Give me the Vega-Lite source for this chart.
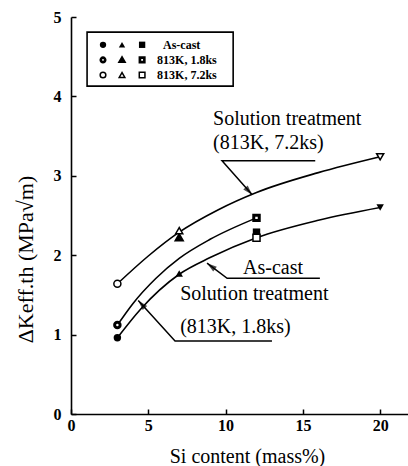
{
  "$schema": "https://vega.github.io/schema/vega-lite/v6.json",
  "width": 337,
  "height": 397,
  "autosize": {"type": "none"},
  "padding": {"left": 71, "top": 17, "right": 0, "bottom": 52},
  "background": "white",
  "config": {
    "font": "Liberation Serif",
    "view": {"stroke": null},
    "axis": {
      "grid": false,
      "domainColor": "black",
      "domainWidth": 1.6,
      "tickColor": "black",
      "tickWidth": 1.5,
      "labelColor": "black",
      "titleColor": "black"
    }
  },
  "datasets": {
    "curves": [
      {"series": "813K, 7.2ks", "si": 3, "dk": 1.64},
      {"series": "813K, 7.2ks", "si": 5, "dk": 1.99},
      {"series": "813K, 7.2ks", "si": 7, "dk": 2.29},
      {"series": "813K, 7.2ks", "si": 9.5, "dk": 2.57},
      {"series": "813K, 7.2ks", "si": 12, "dk": 2.79},
      {"series": "813K, 7.2ks", "si": 16, "dk": 3.04},
      {"series": "813K, 7.2ks", "si": 20, "dk": 3.24},
      {"series": "813K, 1.8ks", "si": 3, "dk": 1.12},
      {"series": "813K, 1.8ks", "si": 4, "dk": 1.39},
      {"series": "813K, 1.8ks", "si": 5.5, "dk": 1.71},
      {"series": "813K, 1.8ks", "si": 7, "dk": 1.96},
      {"series": "813K, 1.8ks", "si": 9, "dk": 2.2},
      {"series": "813K, 1.8ks", "si": 12, "dk": 2.47},
      {"series": "As-cast", "si": 3, "dk": 0.96},
      {"series": "As-cast", "si": 4.5, "dk": 1.32},
      {"series": "As-cast", "si": 7, "dk": 1.76},
      {"series": "As-cast", "si": 9, "dk": 1.97},
      {"series": "As-cast", "si": 12, "dk": 2.22},
      {"series": "As-cast", "si": 16, "dk": 2.44},
      {"series": "As-cast", "si": 20, "dk": 2.6}
    ],
    "points": [
      {"condition": "As-cast", "alloy": "3Si", "si": 3, "dk": 0.96},
      {"condition": "As-cast", "alloy": "7Si", "si": 7, "dk": 1.77},
      {"condition": "As-cast", "alloy": "12Si", "si": 12, "dk": 2.29},
      {"condition": "As-cast", "alloy": "20Si", "si": 20, "dk": 2.6},
      {"condition": "813K, 1.8ks", "alloy": "3Si", "si": 3, "dk": 1.12},
      {"condition": "813K, 1.8ks", "alloy": "7Si", "si": 7, "dk": 2.22},
      {"condition": "813K, 1.8ks", "alloy": "12Si", "si": 12, "dk": 2.47},
      {"condition": "813K, 7.2ks", "alloy": "3Si", "si": 3, "dk": 1.64},
      {"condition": "813K, 7.2ks", "alloy": "7Si", "si": 7, "dk": 2.31},
      {"condition": "813K, 7.2ks", "alloy": "12Si", "si": 12, "dk": 2.22},
      {"condition": "813K, 7.2ks", "alloy": "20Si", "si": 20, "dk": 3.24}
    ],
    "leaders": [
      {"id": "a1", "seq": 1, "si": 11.72, "dk": 2.76},
      {"id": "a1", "seq": 2, "si": 9.77, "dk": 3.19},
      {"id": "a1", "seq": 3, "si": 15.8, "dk": 3.19},
      {"id": "a2", "seq": 1, "si": 8.8, "dk": 1.9},
      {"id": "a2", "seq": 2, "si": 10.1, "dk": 1.71},
      {"id": "a2", "seq": 3, "si": 16.1, "dk": 1.71},
      {"id": "a3", "seq": 1, "si": 4.35, "dk": 1.43},
      {"id": "a3", "seq": 2, "si": 6.73, "dk": 0.92},
      {"id": "a3", "seq": 3, "si": 13.0, "dk": 0.92}
    ],
    "notes": [
      {"label": "Solution treatment", "si": 9.19, "dk": 3.64},
      {"label": "(813K, 7.2ks)", "si": 9.19, "dk": 3.34},
      {"label": "As-cast", "si": 11.13, "dk": 1.757},
      {"label": "Solution treatment", "si": 7.06, "dk": 1.436},
      {"label": "(813K, 1.8ks)", "si": 7.06, "dk": 1.02}
    ],
    "legendSymbols": [
      {"condition": "As-cast", "alloy": "3Si", "si": 2.07, "dk": 4.65},
      {"condition": "As-cast", "alloy": "7Si", "si": 3.3, "dk": 4.65},
      {"condition": "As-cast", "alloy": "12Si", "si": 4.6, "dk": 4.65},
      {"condition": "813K, 1.8ks", "alloy": "3Si", "si": 2.07, "dk": 4.46},
      {"condition": "813K, 1.8ks", "alloy": "7Si", "si": 3.3, "dk": 4.46},
      {"condition": "813K, 1.8ks", "alloy": "12Si", "si": 4.6, "dk": 4.46},
      {"condition": "813K, 7.2ks", "alloy": "3Si", "si": 2.07, "dk": 4.27},
      {"condition": "813K, 7.2ks", "alloy": "7Si", "si": 3.3, "dk": 4.27},
      {"condition": "813K, 7.2ks", "alloy": "12Si", "si": 4.6, "dk": 4.27}
    ],
    "legendLabels": [
      {"label": "As-cast", "si": 5.95, "dk": 4.65},
      {"label": "813K, 1.8ks", "si": 5.57, "dk": 4.46},
      {"label": "813K, 7.2ks", "si": 5.57, "dk": 4.27}
    ],
    "legendBox": [
      {"si": 1.04, "si2": 10.49, "dk": 4.81, "dk2": 4.13}
    ]
  },
  "layer": [
    {
      "data": {"name": "curves"},
      "mark": {"type": "line", "interpolate": "monotone", "color": "black", "strokeWidth": 1.6},
      "encoding": {
        "x": {
          "field": "si", "type": "quantitative",
          "scale": {"domain": [0, 21.8], "nice": false, "zero": false},
          "axis": {
            "values": [0, 5, 10, 15, 20],
            "format": "d",
            "tickSize": -5,
            "labelPadding": 8,
            "labelFont": "Liberation Serif",
            "labelFontSize": 16,
            "labelFontWeight": "bold",
            "labelFlush": false,
            "title": "Si content (mass%)",
            "titleFont": "Liberation Serif",
            "titleFontSize": 20,
            "titleFontWeight": "normal",
            "titleX": 176,
            "titleY": 48,
            "titleBaseline": "alphabetic"
          }
        },
        "y": {
          "field": "dk", "type": "quantitative",
          "scale": {"domain": [0, 5], "nice": false, "zero": false},
          "axis": {
            "values": [0, 1, 2, 3, 4, 5],
            "format": "d",
            "tickSize": -5,
            "labelPadding": 15,
            "labelFont": "Liberation Serif",
            "labelFontSize": 16,
            "labelFontWeight": "bold",
            "labelFlush": false,
            "title": "ΔKeff.th (MPa√m)",
            "titleFont": "Liberation Serif",
            "titleFontSize": 22,
            "titleFontWeight": "normal",
            "titleX": -39,
            "titleY": 242,
            "titleAngle": 270,
            "titleBaseline": "alphabetic"
          }
        },
        "detail": {"field": "series"}
      }
    },
    {
      "mark": {"type": "rule", "color": "black", "strokeWidth": 1.6},
      "encoding": {"y": {"datum": 5, "type": "quantitative"}}
    },
    {
      "data": {"name": "leaders"},
      "mark": {"type": "line", "color": "black", "strokeWidth": 1.5},
      "encoding": {
        "x": {"field": "si", "type": "quantitative"},
        "y": {"field": "dk", "type": "quantitative"},
        "detail": {"field": "id"},
        "order": {"field": "seq"}
      }
    },
    {
      "data": {"name": "leaders"},
      "transform": [{"filter": "datum.id === 'a1' && datum.seq === 1"}],
      "mark": {"type": "point", "shape": "M0,0L-0.3,1L0.3,1Z", "size": 400, "filled": true, "color": "black", "angle": 138},
      "encoding": {"x": {"field": "si", "type": "quantitative"}, "y": {"field": "dk", "type": "quantitative"}}
    },
    {
      "data": {"name": "leaders"},
      "transform": [{"filter": "datum.id === 'a2' && datum.seq === 1"}],
      "mark": {"type": "point", "shape": "M0,0L-0.3,1L0.3,1Z", "size": 400, "filled": true, "color": "black", "angle": 307},
      "encoding": {"x": {"field": "si", "type": "quantitative"}, "y": {"field": "dk", "type": "quantitative"}}
    },
    {
      "data": {"name": "leaders"},
      "transform": [{"filter": "datum.id === 'a3' && datum.seq === 1"}],
      "mark": {"type": "point", "shape": "M0,0L-0.3,1L0.3,1Z", "size": 400, "filled": true, "color": "black", "angle": 318},
      "encoding": {"x": {"field": "si", "type": "quantitative"}, "y": {"field": "dk", "type": "quantitative"}}
    },
    {
      "data": {"name": "points"},
      "transform": [{"filter": "datum.condition === 'As-cast'"}],
      "mark": {"type": "point", "filled": true, "color": "black", "size": 55, "opacity": 1},
      "encoding": {
        "x": {"field": "si", "type": "quantitative"},
        "y": {"field": "dk", "type": "quantitative"},
        "shape": {"field": "alloy", "type": "nominal", "scale": {"domain": ["3Si", "7Si", "12Si", "20Si"], "range": ["circle", "triangle-up", "square", "triangle-down"]}, "legend": null}
      }
    },
    {
      "data": {"name": "points"},
      "transform": [{"filter": "datum.condition === '813K, 1.8ks'"}],
      "mark": {"type": "point", "filled": false, "fill": "white", "stroke": "black", "strokeWidth": 3, "size": 30, "opacity": 1},
      "encoding": {
        "x": {"field": "si", "type": "quantitative"},
        "y": {"field": "dk", "type": "quantitative"},
        "shape": {"field": "alloy", "type": "nominal", "legend": null}
      }
    },
    {
      "data": {"name": "points"},
      "transform": [{"filter": "datum.condition === '813K, 7.2ks'"}],
      "mark": {"type": "point", "filled": false, "fill": "white", "stroke": "black", "strokeWidth": 1.5, "size": 50, "opacity": 1},
      "encoding": {
        "x": {"field": "si", "type": "quantitative"},
        "y": {"field": "dk", "type": "quantitative"},
        "shape": {"field": "alloy", "type": "nominal", "legend": null}
      }
    },
    {
      "data": {"name": "notes"},
      "mark": {"type": "text", "align": "left", "baseline": "alphabetic", "fontSize": 20, "font": "Liberation Serif", "color": "black"},
      "encoding": {
        "x": {"field": "si", "type": "quantitative"},
        "y": {"field": "dk", "type": "quantitative"},
        "text": {"field": "label"}
      }
    },
    {
      "data": {"name": "legendBox"},
      "mark": {"type": "rect", "fill": null, "fillOpacity": 0, "stroke": "black", "strokeWidth": 1.6},
      "encoding": {
        "x": {"field": "si", "type": "quantitative"},
        "x2": {"field": "si2"},
        "y": {"field": "dk", "type": "quantitative"},
        "y2": {"field": "dk2"}
      }
    },
    {
      "data": {"name": "legendSymbols"},
      "transform": [{"filter": "datum.condition === 'As-cast'"}],
      "mark": {"type": "point", "filled": true, "color": "black", "size": 40, "opacity": 1},
      "encoding": {
        "x": {"field": "si", "type": "quantitative"},
        "y": {"field": "dk", "type": "quantitative"},
        "shape": {"field": "alloy", "type": "nominal", "legend": null}
      }
    },
    {
      "data": {"name": "legendSymbols"},
      "transform": [{"filter": "datum.condition === '813K, 1.8ks'"}],
      "mark": {"type": "point", "filled": false, "fill": "white", "stroke": "black", "strokeWidth": 2.6, "size": 20, "opacity": 1},
      "encoding": {
        "x": {"field": "si", "type": "quantitative"},
        "y": {"field": "dk", "type": "quantitative"},
        "shape": {"field": "alloy", "type": "nominal", "legend": null}
      }
    },
    {
      "data": {"name": "legendSymbols"},
      "transform": [{"filter": "datum.condition === '813K, 7.2ks'"}],
      "mark": {"type": "point", "filled": false, "fill": "white", "stroke": "black", "strokeWidth": 1.5, "size": 32, "opacity": 1},
      "encoding": {
        "x": {"field": "si", "type": "quantitative"},
        "y": {"field": "dk", "type": "quantitative"},
        "shape": {"field": "alloy", "type": "nominal", "legend": null}
      }
    },
    {
      "data": {"name": "legendLabels"},
      "mark": {"type": "text", "align": "left", "baseline": "middle", "fontSize": 12, "fontWeight": "bold", "font": "Liberation Serif", "color": "black"},
      "encoding": {
        "x": {"field": "si", "type": "quantitative"},
        "y": {"field": "dk", "type": "quantitative"},
        "text": {"field": "label"}
      }
    }
  ]
}
